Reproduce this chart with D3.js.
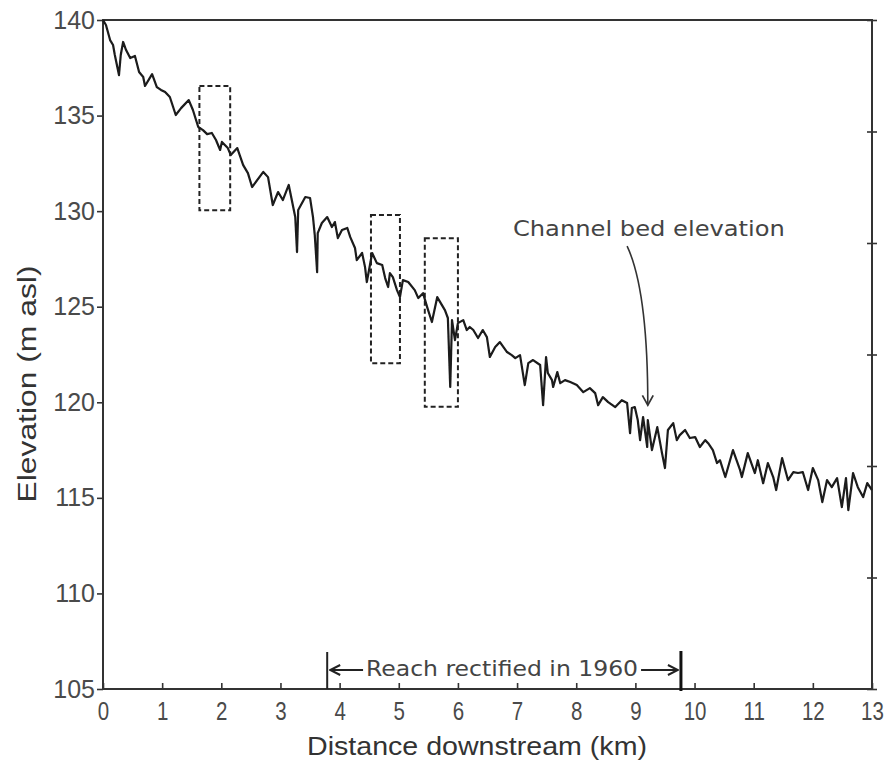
<!DOCTYPE html>
<html><head><meta charset="utf-8">
<script src="https://cdn.jsdelivr.net/npm/d3@7"></script>
<style>
html,body{margin:0;padding:0;background:#fff;}
svg{display:block;}
</style></head>
<body>
<svg id="chart" width="888" height="769"></svg>
<script>
// ---- data ----
const distanceKm = [0.00,0.05,0.12,0.17,0.20,0.27,0.30,0.34,0.39,0.46,0.54,0.61,0.68,0.71,0.83,0.91,0.98,1.05,1.13,1.23,1.32,1.45,1.52,1.61,1.69,1.76,1.84,1.91,1.98,2.01,2.11,2.16,2.27,2.37,2.45,2.52,2.71,2.79,2.87,2.96,3.04,3.14,3.25,3.28,3.30,3.42,3.50,3.55,3.58,3.62,3.63,3.70,3.79,3.87,3.92,3.97,4.04,4.13,4.18,4.26,4.29,4.38,4.43,4.46,4.55,4.63,4.72,4.77,4.82,4.85,4.90,4.97,5.02,5.07,5.16,5.27,5.33,5.41,5.48,5.56,5.65,5.70,5.78,5.83,5.87,5.90,5.95,6.00,6.09,6.15,6.20,6.26,6.34,6.42,6.49,6.54,6.63,6.71,6.83,6.91,6.97,7.05,7.13,7.19,7.27,7.39,7.44,7.49,7.52,7.59,7.61,7.68,7.73,7.81,7.90,8.01,8.12,8.23,8.32,8.37,8.45,8.54,8.66,8.77,8.86,8.91,8.94,8.99,9.04,9.08,9.13,9.20,9.21,9.28,9.37,9.45,9.50,9.55,9.64,9.70,9.75,9.84,9.92,10.01,10.09,10.18,10.23,10.31,10.38,10.43,10.52,10.65,10.77,10.80,10.90,11.02,11.07,11.16,11.24,11.33,11.38,11.48,11.58,11.67,11.75,11.83,11.92,12.00,12.09,12.16,12.24,12.32,12.41,12.49,12.56,12.60,12.68,12.76,12.85,12.92,13.00];
const bedElevation = [140.00,139.74,138.95,138.69,138.17,137.12,138.17,138.85,138.43,138.01,138.12,137.28,137.02,136.55,137.17,136.49,136.34,136.23,135.97,135.03,135.39,135.81,135.29,134.40,134.24,134.03,134.09,133.72,133.20,133.62,133.30,132.94,133.30,132.41,131.99,131.26,132.05,131.78,130.32,131.00,130.58,131.37,129.69,127.86,130.06,130.74,130.69,129.69,128.75,126.81,128.85,129.38,129.69,129.17,129.43,128.59,129.01,129.12,128.64,128.07,127.44,127.81,127.07,126.29,127.81,127.28,127.18,126.50,126.03,126.76,126.55,125.87,125.50,126.39,126.29,125.87,125.45,125.71,124.98,124.20,125.50,125.24,124.82,124.41,120.80,124.30,123.25,124.14,124.30,123.78,123.94,123.78,123.36,123.78,123.41,122.37,122.89,123.15,122.63,122.47,122.31,122.47,120.90,122.05,122.21,121.95,119.85,122.36,121.53,121.16,120.80,121.58,121.00,121.16,121.06,120.90,120.53,120.74,120.48,119.85,120.27,120.01,119.75,120.11,119.96,118.39,119.70,119.75,119.07,118.02,119.23,117.66,119.07,117.50,118.70,117.34,116.56,118.55,118.91,118.02,118.28,118.55,118.13,118.18,117.66,118.02,117.86,117.50,116.82,116.97,116.09,117.50,116.45,116.09,117.34,116.30,116.97,115.77,116.82,116.09,115.41,117.08,115.93,116.35,116.30,116.35,115.41,116.56,115.93,114.78,115.93,115.56,116.03,114.52,116.03,114.36,116.30,115.56,115.04,115.77,115.41];

const xTickValues = [0,1,2,3,4,5,6,7,8,9,10,11,12,13];
const yTickValues = [105,110,115,120,125,130,135,140];
const rightTickValues = [0,1,2,3,4,5,6];

// dashed boxes (km, m asl)
const boxStartKm = [1.63, 4.53, 5.44];
const boxEndKm   = [2.15, 5.02, 6.00];
const boxTopElev = [136.55, 129.80, 128.58];
const boxBotElev = [130.05, 122.04, 119.76];

// reach rectified in 1960
const reachStartKm = 3.79;
const reachEndKm = 9.77;
const reachLabel = "Reach rectified in 1960";

const annotationLabel = "Channel bed elevation";
const annotationTextPos = [6.93, 129.0];
const annotationArrow = [[8.86, 128.17], [9.21, 125.87], [9.21, 119.85]];

const xTitle = "Distance downstream (km)";
const yTitle = "Elevation (m asl)";

// ---- drawing ----
const svg = d3.select("#chart");
const mLeft = 103, mRight = 872, mTop = 20, mBottom = 689;
const x = d3.scaleLinear().domain([0, 13]).range([mLeft, mRight]);
const y = d3.scaleLinear().domain([105, 140]).range([mBottom, mTop]);
const yRight = d3.scaleLinear().domain([0, 6]).range([mBottom, mTop]);

const defs = svg.append("defs");
defs.append("marker").attr("id", "vhead").attr("viewBox", "0 0 12 12")
  .attr("refX", 10).attr("refY", 6).attr("markerWidth", 13).attr("markerHeight", 13)
  .attr("markerUnits", "userSpaceOnUse").attr("orient", "auto")
  .append("path").attr("d", "M1,1 L10,6 L1,11").attr("fill", "none")
  .attr("stroke", "#333").attr("stroke-width", 1.6);
defs.append("marker").attr("id", "shead").attr("viewBox", "0 0 12 12")
  .attr("refX", 11).attr("refY", 6).attr("markerWidth", 12).attr("markerHeight", 12)
  .attr("markerUnits", "userSpaceOnUse").attr("orient", "auto-start-reverse")
  .append("path").attr("d", "M1,1 L11,6 L1,11").attr("fill", "none")
  .attr("stroke", "#222").attr("stroke-width", 2);
defs.append("filter").attr("id", "soft")
  .append("feGaussianBlur").attr("stdDeviation", 0.45);

// axes
const gLeft = svg.append("g").attr("transform", `translate(${mLeft},0)`)
  .call(d3.axisLeft(y).tickValues(yTickValues).tickSizeInner(6).tickSizeOuter(0).tickPadding(2));
gLeft.selectAll("text").attr("font-family", "'Liberation Sans', Arial, sans-serif")
  .attr("font-size", 25).attr("fill", "#4a4a4a");

const gBottom = svg.append("g").attr("transform", `translate(0,${mBottom})`)
  .call(d3.axisBottom(x).tickValues(xTickValues).tickSizeInner(-6).tickSizeOuter(0).tickPadding(13));
gBottom.selectAll("text").attr("font-family", "'Liberation Sans', Arial, sans-serif")
  .attr("font-size", 25).attr("fill", "#4a4a4a").attr("transform", "scale(0.82,1)");

const gRight = svg.append("g").attr("transform", `translate(${mRight},0)`)
  .call(d3.axisRight(yRight).tickValues(rightTickValues).tickSizeInner(5).tickSizeOuter(0).tickFormat(""));
gRight.selectAll(".tick line").attr("x1", -5);

[gLeft, gBottom, gRight].forEach(g => {
  g.select(".domain").remove();
  g.selectAll(".tick line").attr("stroke", "#333").attr("stroke-width", 1.6);
});

// frame
svg.append("rect").attr("x", mLeft).attr("y", mTop)
  .attr("width", mRight - mLeft).attr("height", mBottom - mTop)
  .attr("fill", "none").attr("stroke", "#333").attr("stroke-width", 2);

// dashed boxes
svg.append("g").selectAll("rect").data(boxStartKm).join("rect")
  .attr("x", (d, i) => x(d))
  .attr("y", (d, i) => y(boxTopElev[i]))
  .attr("width", (d, i) => x(boxEndKm[i]) - x(d))
  .attr("height", (d, i) => y(boxBotElev[i]) - y(boxTopElev[i]))
  .attr("fill", "none").attr("stroke", "#222").attr("stroke-width", 2)
  .attr("stroke-dasharray", "5,3");

// profile line
const pts = distanceKm.map((d, i) => [d, bedElevation[i]]);
svg.append("path").datum(pts)
  .attr("d", d3.line().x(d => x(d[0])).y(d => y(d[1])))
  .attr("fill", "none").attr("stroke", "#1a1a1a").attr("stroke-width", 2.2)
  .attr("stroke-linejoin", "round").attr("filter", "url(#soft)");

// annotation
svg.append("text").attr("x", x(annotationTextPos[0])).attr("y", y(annotationTextPos[1]))
  .attr("font-family", "'DejaVu Sans', sans-serif").attr("font-size", 22)
  .attr("fill", "#444").attr("dominant-baseline", "middle")
  .attr("textLength", 272).attr("lengthAdjust", "spacingAndGlyphs")
  .text(annotationLabel);
const a = annotationArrow;
svg.append("path")
  .attr("d", `M${x(a[0][0])},${y(a[0][1])} Q${x(a[1][0])},${y(a[1][1])} ${x(a[2][0])},${y(a[2][1])}`)
  .attr("fill", "none").attr("stroke", "#333").attr("stroke-width", 1.6)
  .attr("marker-end", "url(#vhead)");

// reach rectified bracket
const reachTopPx = 652;
svg.append("line").attr("x1", x(reachStartKm)).attr("x2", x(reachStartKm))
  .attr("y1", reachTopPx).attr("y2", mBottom).attr("stroke", "#222").attr("stroke-width", 2);
svg.append("line").attr("x1", x(reachEndKm)).attr("x2", x(reachEndKm))
  .attr("y1", reachTopPx - 1).attr("y2", mBottom + 2).attr("stroke", "#111").attr("stroke-width", 3);
const reachText = svg.append("text")
  .attr("x", (x(reachStartKm) + x(reachEndKm)) / 2 - 2).attr("y", 670)
  .attr("text-anchor", "middle").attr("dominant-baseline", "middle")
  .attr("font-family", "'DejaVu Sans', sans-serif").attr("font-size", 21)
  .attr("fill", "#444").attr("textLength", 272).attr("lengthAdjust", "spacingAndGlyphs")
  .text(reachLabel);
const tb = reachText.node().getBBox();
svg.append("line").attr("x1", tb.x - 3).attr("x2", x(reachStartKm) + 3)
  .attr("y1", 670).attr("y2", 670).attr("stroke", "#222").attr("stroke-width", 2)
  .attr("marker-end", "url(#shead)");
svg.append("line").attr("x1", tb.x + tb.width + 3).attr("x2", x(reachEndKm) - 3)
  .attr("y1", 670).attr("y2", 670).attr("stroke", "#222").attr("stroke-width", 2)
  .attr("marker-end", "url(#shead)");

// axis titles
svg.append("text").attr("x", 477).attr("y", 748)
  .attr("text-anchor", "middle").attr("dominant-baseline", "middle")
  .attr("font-family", "'Liberation Sans', Arial, sans-serif")
  .attr("font-size", 26).attr("fill", "#333")
  .attr("textLength", 340).attr("lengthAdjust", "spacingAndGlyphs").text(xTitle);
svg.append("text").attr("transform", `translate(29,${384}) rotate(-90)`)
  .attr("text-anchor", "middle").attr("dominant-baseline", "middle")
  .attr("font-family", "'Liberation Sans', Arial, sans-serif")
  .attr("font-size", 26).attr("fill", "#333")
  .attr("textLength", 237).attr("lengthAdjust", "spacingAndGlyphs").text(yTitle);
</script>
</body></html>
